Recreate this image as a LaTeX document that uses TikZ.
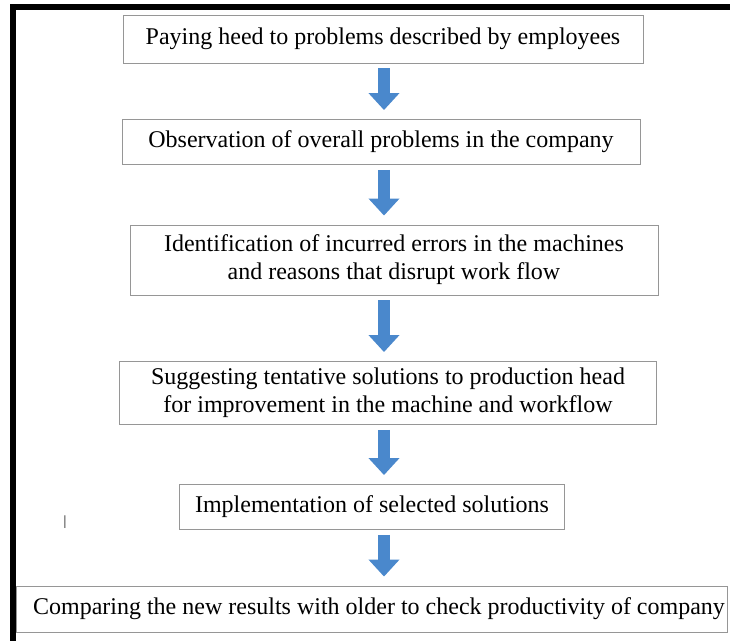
\documentclass[tikz,border=0pt]{standalone}
\usepackage{fontspec}
\setmainfont{Liberation Serif}
\usetikzlibrary{arrows.meta}
\definecolor{arrowblue}{RGB}{74,136,204}
\definecolor{boxgray}{RGB}{150,150,150}

\begin{document}
\begin{tikzpicture}[x=1pt,y=-1pt,font=\fontsize{24}{28}\selectfont,
    flow box/.style={draw=boxgray,line width=0.9pt,align=center,inner sep=0pt},
    flow arrow/.style={draw=arrowblue,line width=12pt,shorten <=5pt,shorten >=9pt,-{Triangle[length=17pt,width=30pt]}}]
  \useasboundingbox (0,0) rectangle (730,641);
  \fill (10,4) rectangle (16,641);
  \fill (10,4) rectangle (730,10);
  \coordinate (axis) at (384,0);
  \node[flow box,minimum width=520pt,minimum height=48pt] (pay) at (383,39) {Paying heed to problems described by employees};
  \node[flow box,minimum width=518pt,minimum height=45pt] (observe) at (381,142) {Observation of overall problems in the company};
  \node[flow box,minimum width=528pt,minimum height=70pt] (identify) at (394,260) {Identification of incurred errors in the machines\\and reasons that disrupt work flow};
  \node[flow box,minimum width=537pt,minimum height=63pt] (suggest) at (388,393) {Suggesting tentative solutions to production head\\for improvement in the machine and workflow};
  \node[flow box,minimum width=385pt,minimum height=45pt] (implement) at (372,507) {Implementation of selected solutions};
  \node[flow box,minimum width=711pt,minimum height=46pt] (compare) at (372,609) {\hspace*{14pt}Comparing the new results with older to check productivity of company};
  \node[font=\fontsize{14}{16}\selectfont] (mark) at (65,522) {\textbar};
  \draw[flow arrow] (pay.south -| axis) -- (observe.north -| axis);
  \draw[flow arrow] (observe.south -| axis) -- (identify.north -| axis);
  \draw[flow arrow] (identify.south -| axis) -- (suggest.north -| axis);
  \draw[flow arrow] (suggest.south -| axis) -- (implement.north -| axis);
  \draw[flow arrow] (implement.south -| axis) -- (compare.north -| axis);
\end{tikzpicture}
\end{document}
